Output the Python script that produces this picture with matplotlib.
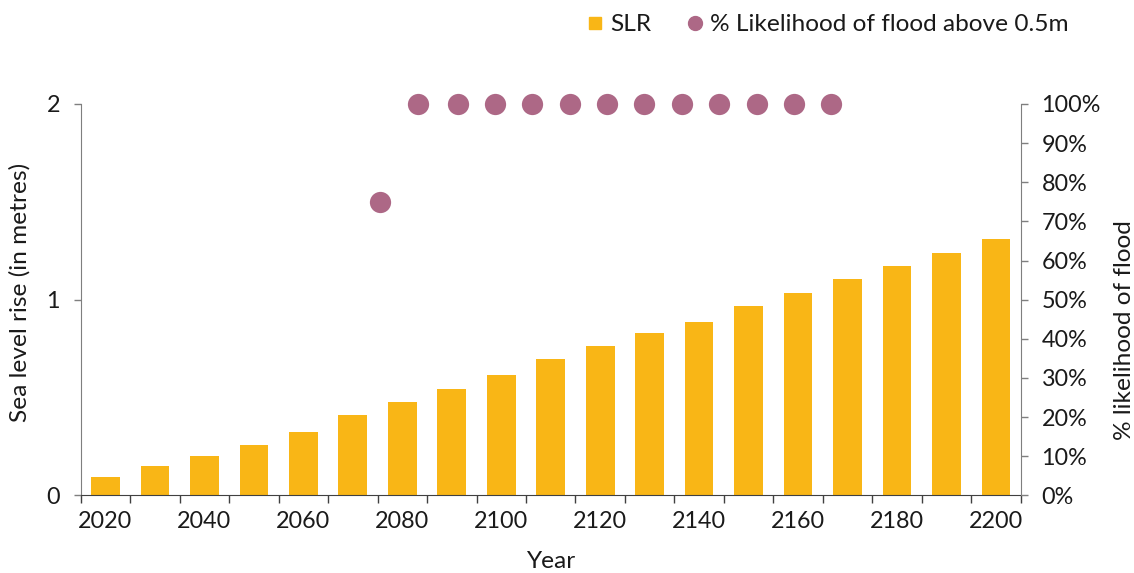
import matplotlib
matplotlib.use("Agg")
import matplotlib.pyplot as plt
from matplotlib.lines import Line2D
from matplotlib.ticker import FixedLocator, FuncFormatter

plt.rcParams["font.family"] = ["Lato", "DejaVu Sans"]

# sea level rise per decade (metres)
years = [2020, 2030, 2040, 2050, 2060, 2070, 2080, 2090, 2100, 2110,
         2120, 2130, 2140, 2150, 2160, 2170, 2180, 2190, 2200]
slr = [0.094, 0.150, 0.202, 0.257, 0.325, 0.409, 0.477, 0.543, 0.615, 0.695,
       0.763, 0.830, 0.886, 0.968, 1.035, 1.104, 1.172, 1.239, 1.309]

# likelihood of flood above 0.5m (%), positions read as years
flood_years = [2075.5, 2083.1, 2091.2, 2098.7, 2106.3, 2113.8, 2121.4,
               2128.9, 2136.5, 2144.0, 2151.6, 2159.1, 2166.7]
flood_pct = [75, 100, 100, 100, 100, 100, 100, 100, 100, 100, 100, 100, 100]

year_labels = [2020, 2040, 2060, 2080, 2100, 2120, 2140, 2160, 2180, 2200]

BAR = "#F9B616"
DOT = "#AD6886"
TXT = "#1a1a1a"
SPINE = "#7f7f7f"
TICK_FS = 16.8
LABEL_FS = 17.6

fig = plt.figure(figsize=(11.34, 5.73), dpi=100)
ax = fig.add_axes([0.0712, 0.1356, 0.8289, 0.6829])

ax.bar(years, slr, width=5.8, color=BAR, zorder=2)
ax.set_xlim(2015, 2205)
ax.set_ylim(0, 2)
ax.set_yticks([0, 1, 2])
ax.set_yticklabels(["0", "1", "2"])

ax.set_xticks(year_labels)
ax.set_xticklabels([str(y) for y in year_labels])
ax.xaxis.set_minor_locator(FixedLocator([y - 5 for y in years] + [2205]))
ax.tick_params(axis="x", which="major", length=0, pad=11, labelsize=TICK_FS, labelcolor=TXT)
ax.tick_params(axis="x", which="minor", length=5.5, width=1, color="#404040", direction="out")
ax.tick_params(axis="y", length=5, width=1, color=SPINE, pad=10, labelsize=TICK_FS, labelcolor=TXT)

for side in ["top", "right"]:
    ax.spines[side].set_visible(False)
ax.spines["left"].set_color(SPINE)
ax.spines["bottom"].set_color("#404040")

ax.set_xlabel("Year", fontsize=LABEL_FS, color=TXT, labelpad=14)
ax.set_ylabel("Sea level rise (in metres)", fontsize=LABEL_FS, color=TXT)
ax.yaxis.set_label_coords(-0.053, 0.518)

ax2 = ax.twinx()
ax2.scatter(flood_years, flood_pct, s=234, color=DOT, linewidths=0, zorder=3, clip_on=False)
ax2.set_ylim(0, 100)
ax2.set_yticks(range(0, 101, 10))
ax2.yaxis.set_major_formatter(FuncFormatter(lambda v, _: f"{int(v)}%"))
ax2.tick_params(axis="y", length=5, width=1, color=SPINE, pad=10, labelsize=TICK_FS, labelcolor=TXT)
for side in ["top", "left", "bottom"]:
    ax2.spines[side].set_visible(False)
ax2.spines["right"].set_color(SPINE)
ax2.set_ylabel("% likelihood of flood", fontsize=LABEL_FS, color=TXT, rotation=90)
ax2.yaxis.set_label_coords(1.099, 0.4225)

handles = [
    Line2D([], [], marker="s", linestyle="", color=BAR, markersize=9),
    Line2D([], [], marker="o", linestyle="", color=DOT, markersize=10),
]
fig.legend(handles, ["SLR", "% Likelihood of flood above 0.5m"],
           loc="center right", bbox_to_anchor=(0.942, 0.957), ncol=2,
           frameon=False, fontsize=LABEL_FS, handletextpad=0.2, columnspacing=1.4,
           handlelength=0.8, borderpad=0, borderaxespad=0, labelcolor=TXT)

fig.savefig("out.png", dpi=100)
plt.close(fig)
